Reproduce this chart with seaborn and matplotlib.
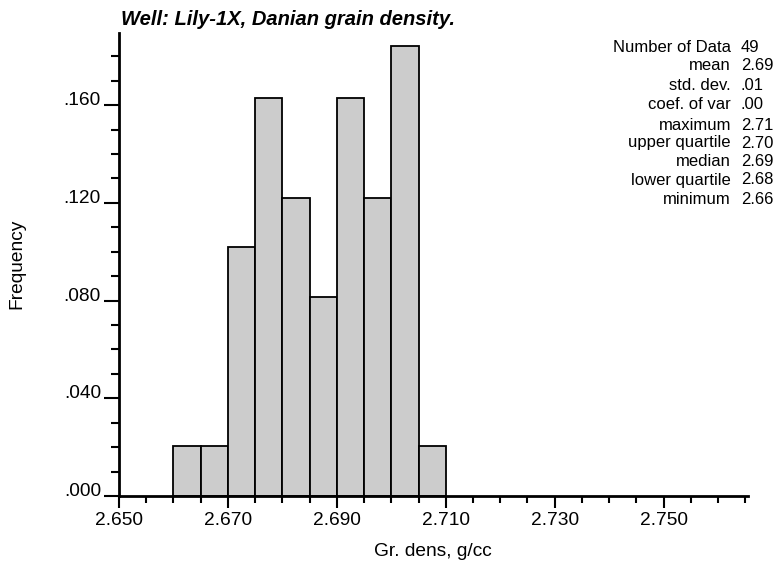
import matplotlib
matplotlib.use("Agg")
import matplotlib.pyplot as plt
import seaborn as sns
import numpy as np
from matplotlib.ticker import FixedLocator, MultipleLocator, FuncFormatter

# ---- data ----
bin_edges = [2.660, 2.665, 2.670, 2.675, 2.680, 2.685, 2.690, 2.695, 2.700, 2.705, 2.710]
frequencies = [0.0204, 0.0204, 0.102, 0.163, 0.122, 0.0816, 0.163, 0.122, 0.184, 0.0204]
x_ticks = [2.650, 2.670, 2.690, 2.710, 2.730, 2.750]
y_ticks = [0.000, 0.040, 0.080, 0.120, 0.160]
stat_labels = ["Number of Data", "mean", "std. dev.", "coef. of var",
               "maximum", "upper quartile", "median", "lower quartile", "minimum"]
stat_values = ["49", "2.69", ".01", ".00", "2.71", "2.70", "2.69", "2.68", "2.66"]
title = "Well: Lily-1X, Danian grain density."
x_label = "Gr. dens, g/cc"
y_label = "Frequency"

sns.set_style("white")
plt.rcParams["font.family"] = ["Liberation Sans", "DejaVu Sans"]
plt.rcParams["text.color"] = "black"
plt.rcParams["xtick.color"] = "black"
plt.rcParams["ytick.color"] = "black"

fig = plt.figure(figsize=(7.75, 5.71), dpi=100)
ax = fig.add_axes([119/775, 1-496/571, (748-119)/775, (496-33)/571])

centers = [(bin_edges[i] + bin_edges[i+1]) / 2 for i in range(len(frequencies))]
sns.histplot(x=centers, weights=frequencies, bins=bin_edges, stat="count",
             color="#cccccc", alpha=1, edgecolor="black", linewidth=1.3, ax=ax)

ax.set_xlim(2.650, 2.7655)
ax.set_ylim(0, 0.1895)
ax.xaxis.set_major_locator(FixedLocator(x_ticks))
ax.xaxis.set_minor_locator(MultipleLocator(0.005))
ax.yaxis.set_major_locator(FixedLocator(y_ticks))
ax.yaxis.set_minor_locator(MultipleLocator(0.01))
ax.xaxis.set_major_formatter(FuncFormatter(lambda v, p: f"{v:.3f}"))
ax.yaxis.set_major_formatter(FuncFormatter(lambda v, p: f"{v:.3f}".lstrip("0")))

for s in ["top", "right"]:
    ax.spines[s].set_visible(False)
for s in ["left", "bottom"]:
    ax.spines[s].set_linewidth(2)
    ax.spines[s].set_color("black")

ax.tick_params(axis="x", which="major", direction="out", length=8.5, width=1.5,
               labelsize=13.8, pad=3, bottom=True)
ax.tick_params(axis="x", which="minor", direction="out", length=5, width=1.5, bottom=True)
ax.tick_params(axis="y", which="major", direction="out", length=11, width=1.5,
               labelsize=13.8, pad=2, left=True)
ax.tick_params(axis="y", which="minor", direction="out", length=6, width=1.5, left=True)
ax.set_xlabel("")
ax.set_ylabel("")
for t in ax.get_yticklabels():
    t.set_verticalalignment("baseline")

fig.text(121/775, 1-25/571, title, fontsize=14.5, fontweight="bold", fontstyle="italic",
         ha="left", va="baseline")
fig.text(433/775, 1-552/571, x_label, fontsize=13.8, ha="center", va="center")
fig.text(17/775, 1-264/571, y_label, fontsize=13.8, rotation=90, ha="center", va="center")

ys = [47, 66, 86, 104, 125, 143, 162, 180, 199]
for lab, val, y in zip(stat_labels, stat_values, ys):
    fig.text(731/775, 1-y/571, lab, fontsize=12, ha="right", va="center")
    fig.text(741/775, 1-y/571, val, fontsize=12, ha="left", va="center")

fig.savefig("out.png", dpi=100)
